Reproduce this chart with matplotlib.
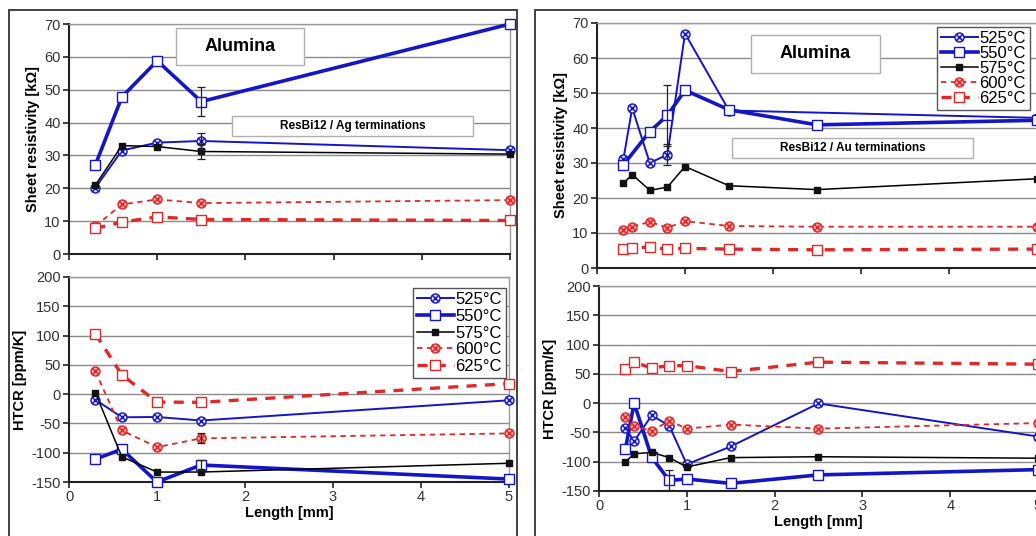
import numpy as np
import matplotlib
matplotlib.use('Agg')
import matplotlib.pyplot as plt
from matplotlib.path import Path
from matplotlib.patches import Rectangle

plt.rcParams['font.family'] = ['Liberation Sans', 'DejaVu Sans']
plt.rcParams['axes.unicode_minus'] = False

# ---- data : left panel (ResBi12 / Ag terminations) ----
ag_x = [0.3, 0.6, 1.0, 1.5, 5.0]
ag_r525 = [20.2, 31.5, 33.9, 34.4, 31.6]
ag_r550 = [27.2, 47.8, 58.8, 46.4, 70.0]
ag_r575 = [21.0, 33.0, 32.7, 31.2, 30.4]
ag_r600 = [8.5, 15.1, 16.6, 15.5, 16.4]
ag_r625 = [7.8, 9.7, 11.3, 10.5, 10.2]
ag_h525 = [-9.5, -39.5, -39.0, -45.0, -10.5]
ag_h550 = [-111, -94, -150, -121, -145]
ag_h575 = [2.5, -107, -133, -133, -118]
ag_h600 = [39, -62, -90.5, -75.5, -67]
ag_h625 = [103, 33, -13.5, -14, 18]
# error bars (x, y, err)
ag_r_err = [(1.5, 46.4, 4.5), (1.5, 34.4, 2.4), (1.5, 31.2, 2.3)]
ag_h_err = [(1.5, -121, 8.5), (1.5, -75.5, 8.5)]

# ---- data : right panel (ResBi12 / Au terminations) ----
au_x = [0.3, 0.4, 0.6, 0.8, 1.0, 1.5, 2.5, 5.0]
au_x525_r = [0.3, 0.4, 0.6, 0.8, 1.0, 1.5, 5.0]
au_x550_r = [0.3, 0.6, 0.8, 1.0, 1.5, 2.5, 5.0]
au_r525 = [31.1, 45.7, 30.0, 32.4, 67.0, 45.0, 42.9]
au_r550 = [29.5, 39.0, 43.6, 50.8, 45.2, 40.9, 42.2]
au_r575 = [24.2, 26.7, 22.2, 23.1, 29.0, 23.5, 22.4, 25.5]
au_r600 = [11.0, 11.8, 13.2, 11.5, 13.4, 12.0, 11.8, 11.8]
au_r625 = [5.5, 5.7, 6.0, 5.3, 5.6, 5.4, 5.2, 5.4]
au_h525 = [-42.5, -65, -21, -38.5, -104.5, -74, -0.5, -57]
au_h550 = [-79, 0, -92.5, -132, -129.5, -137, -122.5, -113.5]
au_h575 = [-100.5, -86.5, -84, -93, -109, -93, -91.5, -94]
au_h600 = [-24, -38.5, -47.5, -30, -43.5, -36.5, -43.5, -34]
au_h625 = [59, 70, 60, 64, 64, 54, 70, 66.5]
au_r_err = [(0.8, 43.6, 8.6), (0.8, 32.3, 3.0)]
au_h_err = [(0.8, -131, 17)]

temps = ['525°C', '550°C', '575°C', '600°C', '625°C']

# ---- styles ----
blue = '#1515c8'
red = '#e02828'
d = 0.7
circx = Path.make_compound_path(
    Path.unit_circle(),
    Path([(-d, -d), (d, d), (-d, d), (d, -d)],
         [Path.MOVETO, Path.LINETO, Path.MOVETO, Path.LINETO]))
styles = [
    dict(color=blue, lw=1.4, ls='-', marker=circx, ms=6.5, mfc='#dcdcff', mec=blue, mew=1.0),
    dict(color=blue, lw=2.6, ls='-', marker='s', ms=6.5, mfc='white', mec=blue, mew=1.0),
    dict(color='black', lw=1.1, ls='-', marker='s', ms=5, mfc='#111111', mec='#111111', mew=1.0),
    dict(color=red, lw=1.3, ls=(0, (3, 2.5)), marker=circx, ms=6.5, mfc='#f4a0a0', mec=red, mew=1.0),
    dict(color=red, lw=2.4, ls=(0, (3, 2.5)), marker='s', ms=6.5, mfc='white', mec=red, mew=1.0),
]

W, H = 1036, 536
fig = plt.figure(figsize=(W / 100, H / 100), dpi=100)


def px_axes(x0, x1, ytop, ybot):
    return fig.add_axes([x0 / W, (H - ybot) / H, (x1 - x0) / W, (ybot - ytop) / H])


def style_axes(ax, ylim, yticks, ylabel, xlabels):
    ax.set_xlim(0, 5)
    ax.set_ylim(*ylim)
    ax.set_yticks(yticks)
    ax.set_xticks(range(6))
    ax.yaxis.grid(True, color='#8a8a8a', lw=1.0)
    ax.set_axisbelow(True)
    for s in ['left', 'bottom']:
        ax.spines[s].set_color('#222222')
        ax.spines[s].set_linewidth(1.5)
    for s in ['top', 'right']:
        ax.spines[s].set_color('#9a9a9a')
        ax.spines[s].set_linewidth(1.0)
    ax.tick_params(direction='out', length=4, width=1.2, color='#222222',
                   labelsize=10.5, labelcolor='#333333', pad=2)
    ax.set_ylabel(ylabel, fontsize=10.5, fontweight='bold', labelpad=3)
    if xlabels:
        ax.set_xlabel('Length [mm]', fontsize=10.5, fontweight='bold', labelpad=1)
    else:
        ax.set_xticklabels([])


def plot_series(ax, xs, ys, errs):
    lines = []
    for x, y, st, lab in zip(xs, ys, styles, temps):
        ln, = ax.plot(x, y, label=lab, clip_on=False, zorder=3, **st)
        lines.append(ln)
    for x, y, e in errs:
        ax.errorbar([x], [y], yerr=[e], fmt='none', ecolor='#222222',
                    elinewidth=0.9, capsize=3, capthick=0.9, zorder=4)
    return lines


def box_text(ax, x0, x1, y0, y1, txt, size):
    ax.add_patch(Rectangle((x0, y0), x1 - x0, y1 - y0, transform=ax.transAxes,
                           fc='white', ec='#b0b0b0', lw=1.0, zorder=1))
    ax.text((x0 + x1) / 2, (y0 + y1) / 2, txt, transform=ax.transAxes,
            ha='center', va='center', fontsize=size, fontweight='bold', zorder=2)


def add_legend(ax, anchor, spacing):
    leg = ax.legend(loc='upper right', bbox_to_anchor=anchor, borderaxespad=0,
                    fontsize=12, handlelength=2.2, handletextpad=0.1, labelspacing=spacing,
                    borderpad=0.25, fancybox=False, framealpha=1, edgecolor='#555555')
    leg.get_frame().set_linewidth(1.0)


# panel frames
fig.add_artist(Rectangle((9 / W, -0.1), (517 - 9) / W, (H - 10) / H + 0.1,
                         transform=fig.transFigure, fill=False, ec='#333333', lw=1.3))
fig.add_artist(Rectangle((535 / W, -0.1), 0.6, (H - 10) / H + 0.1,
                         transform=fig.transFigure, fill=False, ec='#333333', lw=1.3))

# ---- left panel ----
ax1 = px_axes(69, 510, 24, 254)
style_axes(ax1, (0, 70), range(0, 71, 10), 'Sheet resistivity [kΩ]', False)
plot_series(ax1, [ag_x] * 5, [ag_r525, ag_r550, ag_r575, ag_r600, ag_r625], ag_r_err)
box_text(ax1, 0.243, 0.533, 0.822, 0.983, 'Alumina', 13)
box_text(ax1, 0.370, 0.916, 0.513, 0.600, 'ResBi12 / Ag terminations', 8.5)

ax2 = px_axes(69, 509, 277, 482)
style_axes(ax2, (-150, 200), range(-150, 201, 50), 'HTCR [ppm/K]', True)
plot_series(ax2, [ag_x] * 5, [ag_h525, ag_h550, ag_h575, ag_h600, ag_h625], ag_h_err)
add_legend(ax2, (0.993, 0.946), 0.1)

# ---- right panel ----
ax3 = px_axes(597, 1037, 23, 268)
style_axes(ax3, (0, 70), range(0, 71, 10), 'Sheet resistivity [kΩ]', False)
plot_series(ax3, [au_x525_r, au_x550_r, au_x, au_x, au_x],
            [au_r525, au_r550, au_r575, au_r600, au_r625], au_r_err)
box_text(ax3, 0.350, 0.643, 0.796, 0.951, 'Alumina', 13)
box_text(ax3, 0.307, 0.855, 0.449, 0.531, 'ResBi12 / Au terminations', 8.5)
add_legend(ax3, (0.984, 0.984), 0.0)

ax4 = px_axes(599, 1038, 286, 491)
style_axes(ax4, (-150, 200), range(-150, 201, 50), 'HTCR [ppm/K]', True)
plot_series(ax4, [au_x] * 5, [au_h525, au_h550, au_h575, au_h600, au_h625], au_h_err)

fig.savefig('out.png', dpi=100)
